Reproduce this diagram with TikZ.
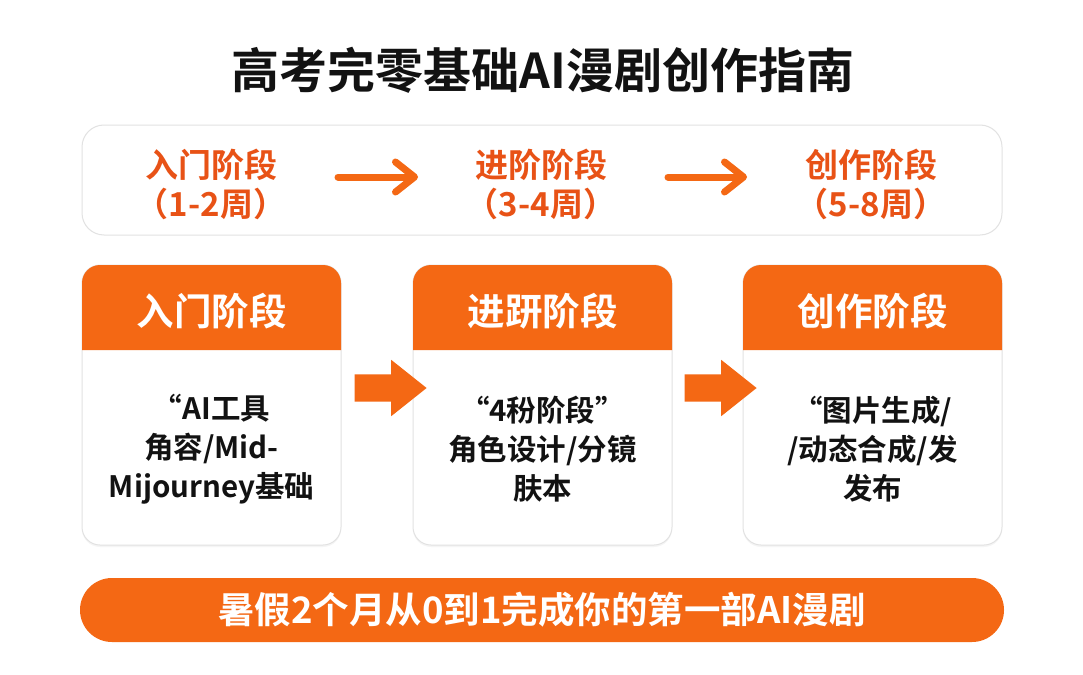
\documentclass[tikz,border=0pt]{standalone}
\usepackage{fontspec}
\setmainfont{Noto Sans CJK SC}[BoldFont=* Bold]
\usetikzlibrary{arrows.meta,shapes.arrows,shadows}
\definecolor{org}{RGB}{244,104,20}
\definecolor{orgtxt}{RGB}{232,82,22}
\definecolor{bord}{RGB}{226,226,226}
\definecolor{txt}{RGB}{18,18,18}
\tikzset{
  titletxt/.style={font=\bfseries\fontsize{48}{52}\selectfont, text=txt},
  stagetxt/.style={font=\bfseries\fontsize{33}{39}\selectfont, text=orgtxt, align=center},
  toparrow/.style={draw=org, line width=7pt, line cap=round, -{Straight Barb[length=19pt,width=30pt,line width=7pt,round]}},
  cardbox/.style={draw=bord, fill=white, line width=1pt, rounded corners=18pt, minimum width=259pt, minimum height=280pt, drop shadow={opacity=0.08, shadow xshift=0pt, shadow yshift=-2pt}},
  headtxt/.style={font=\bfseries\fontsize{37.5}{42}\selectfont, text=white},
  bodytxt/.style={font=\bfseries\fontsize{29.5}{39}\selectfont, text=txt, align=center},
  blockarrow/.style={single arrow, fill=org, inner xsep=0pt, inner ysep=13.5pt, minimum height=72pt, single arrow head extend=14.5pt, single arrow tip angle=77},
  barbox/.style={fill=org, rounded corners=32pt, minimum width=924pt, minimum height=64pt, text=white, font=\bfseries\fontsize{36.5}{40}\selectfont},
}
\begin{document}
\begin{tikzpicture}[x=1pt,y=-1pt]
\useasboundingbox (0,0) rectangle (1083,674);
\fill[white] (0,0) rectangle (1083,674);

% title
\node[titletxt] (title) at (543,70) {高考完零基础AI漫剧创作指南};

% top timeline box
\node[draw=bord, fill=white, line width=1pt, rounded corners=22pt, minimum width=920pt, minimum height=110pt] (top) at (542,180) {};
\node[stagetxt] (s1) at (211,184) {入门阶段\\（1-2周）};
\node[stagetxt] (s2) at (541,184) {进阶阶段\\（3-4周）};
\node[stagetxt] (s3) at (871,184) {创作阶段\\（5-8周）};
\coordinate (a1s) at (338,177);
\coordinate (a1e) at (418,177);
\coordinate (a2s) at (668,177);
\coordinate (a2e) at (747,177);
\draw[toparrow] (a1s) -- (a1e);
\draw[toparrow] (a2s) -- (a2e);

% cards
\foreach \n/\x in {c1/211.5, c2/542.5, c3/872.5}{
  \node[cardbox] (\n) at (\x,405) {};
  \fill[org] (\x-129.5,350) [rounded corners=18pt] -- (\x-129.5,265) -- (\x+129.5,265) [sharp corners] -- (\x+129.5,350) -- cycle;
}
\node[headtxt] (h1) at (211.5,311) {入门阶段};
\node[headtxt] (h2) at (542.5,311) {进趼阶段};
\node[headtxt] (h3) at (872.5,311) {创作阶段};

\node[bodytxt] (b1) at (211.5,449) {“AI工具\\角容/Mid-\\Mijourney基础};
\node[bodytxt] (b2) at (542.5,449) {“4秎阶段”\\角色设计/分镜\\肤本};
\node[bodytxt] (b3) at (872.5,449) {“图片生成/\\/动态合成/发\\发布};

% block arrows
\node[blockarrow] (ar1) at (382,388) {};
\node[blockarrow] (ar2) at (712,388) {};

% bottom bar
\node[barbox] (bar) at (542,610) {暑假2个月从0到1完成你的第一部AI漫剧};
\end{tikzpicture}
\end{document}
